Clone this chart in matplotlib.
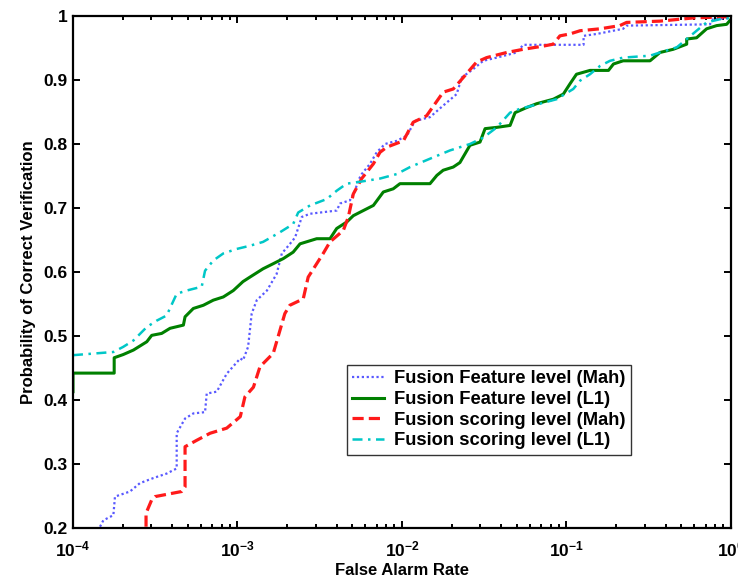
import matplotlib
matplotlib.use("Agg")
import matplotlib.pyplot as plt
from matplotlib.ticker import LogLocator, FixedLocator, NullFormatter

plt.rcParams['font.family'] = ['Liberation Sans', 'DejaVu Sans']
plt.rcParams['font.weight'] = 'bold'
plt.rcParams['mathtext.fontset'] = 'custom'
plt.rcParams['mathtext.rm'] = 'Liberation Sans:bold'
plt.rcParams['mathtext.it'] = 'Liberation Sans:bold'
plt.rcParams['mathtext.bf'] = 'Liberation Sans:bold'

# ---- data (false alarm rate, probability of correct verification) ----
feat_mah_far = [1.46e-4, 1.53e-4, 1.76e-4, 1.80e-4, 2.22e-4, 2.55e-4, 3.08e-4, 3.71e-4,
                4.27e-4, 4.27e-4, 4.80e-4, 5.39e-4, 6.35e-4, 6.50e-4, 7.48e-4, 8.60e-4,
                1.04e-3, 1.08e-3, 1.16e-3, 1.22e-3, 1.31e-3, 1.51e-3, 1.73e-3, 1.86e-3,
                2.04e-3, 2.24e-3, 2.46e-3, 2.76e-3, 4.01e-3, 4.20e-3, 4.83e-3, 5.18e-3,
                5.42e-3, 5.69e-3, 6.39e-3, 7.02e-3, 7.88e-3, 9.29e-3, 1.07e-2, 1.20e-2,
                1.48e-2, 1.78e-2, 2.15e-2, 2.31e-2, 2.71e-2, 3.12e-2, 3.77e-2, 4.98e-2,
                5.46e-2, 0.127, 0.127, 0.153, 0.221, 0.232, 0.745, 0.780, 1.0]
feat_mah_pcv = [0.202, 0.212, 0.220, 0.249, 0.257, 0.270, 0.278, 0.285,
                0.293, 0.348, 0.371, 0.379, 0.381, 0.410, 0.413, 0.441,
                0.465, 0.462, 0.483, 0.535, 0.556, 0.571, 0.597, 0.629,
                0.641, 0.654, 0.686, 0.691, 0.696, 0.707, 0.712, 0.727,
                0.743, 0.753, 0.769, 0.787, 0.800, 0.805, 0.813, 0.836,
                0.842, 0.860, 0.878, 0.904, 0.917, 0.930, 0.935, 0.943,
                0.955, 0.955, 0.969, 0.972, 0.980, 0.985, 0.987, 0.995, 0.997]

feat_l1_far = [1.00e-4, 1.00e-4, 1.78e-4, 1.78e-4, 2.02e-4, 2.33e-4, 2.81e-4, 3.01e-4,
               3.46e-4, 3.89e-4, 4.69e-4, 4.80e-4, 5.39e-4, 6.20e-4, 7.13e-4, 8.20e-4,
               9.43e-4, 1.08e-3, 1.19e-3, 1.43e-3, 1.65e-3, 1.90e-3, 2.18e-3, 2.40e-3,
               3.03e-3, 3.65e-3, 4.01e-3, 4.61e-3, 5.06e-3, 5.82e-3, 6.70e-3, 7.70e-3,
               8.85e-3, 9.72e-3, 1.48e-2, 1.63e-2, 1.78e-2, 2.05e-2, 2.25e-2, 2.59e-2,
               2.98e-2, 3.20e-2, 3.77e-2, 4.54e-2, 4.87e-2, 5.73e-2, 6.59e-2, 8.32e-2,
               9.57e-2, 0.105, 0.115, 0.139, 0.180, 0.193, 0.221, 0.322,
               0.370, 0.446, 0.538, 0.538, 0.618, 0.711, 0.818, 0.941, 1.0]
feat_l1_pcv = [0.413, 0.442, 0.442, 0.466, 0.471, 0.478, 0.491, 0.501,
               0.504, 0.512, 0.517, 0.530, 0.543, 0.548, 0.556, 0.561,
               0.571, 0.585, 0.592, 0.605, 0.613, 0.621, 0.631, 0.644,
               0.652, 0.652, 0.668, 0.678, 0.688, 0.696, 0.704, 0.725,
               0.730, 0.738, 0.738, 0.751, 0.759, 0.764, 0.771, 0.798,
               0.803, 0.824, 0.826, 0.829, 0.849, 0.857, 0.863, 0.870,
               0.878, 0.894, 0.909, 0.915, 0.915, 0.925, 0.930, 0.930,
               0.943, 0.948, 0.956, 0.964, 0.966, 0.980, 0.985, 0.987, 0.995]

score_mah_far = [2.78e-4, 2.78e-4, 3.01e-4, 3.15e-4, 4.58e-4, 4.80e-4, 4.80e-4, 5.65e-4,
                 6.81e-4, 8.60e-4, 1.04e-3, 1.11e-3, 1.25e-3, 1.37e-3, 1.65e-3, 1.94e-3,
                 2.08e-3, 2.51e-3, 2.69e-3, 3.32e-3, 3.65e-3, 4.40e-3, 4.72e-3, 5.06e-3,
                 5.69e-3, 6.70e-3, 7.35e-3, 8.07e-3, 1.02e-2, 1.17e-2, 1.41e-2, 1.78e-2,
                 2.05e-2, 2.36e-2, 2.84e-2, 3.27e-2, 4.33e-2, 5.46e-2, 7.23e-2, 8.32e-2,
                 9.12e-2, 0.105, 0.121, 0.160, 0.211, 0.232, 0.370, 0.590, 1.0]
score_mah_pcv = [0.202, 0.223, 0.244, 0.249, 0.257, 0.264, 0.327, 0.337,
                 0.348, 0.356, 0.374, 0.405, 0.420, 0.452, 0.473, 0.535,
                 0.548, 0.558, 0.592, 0.629, 0.647, 0.665, 0.686, 0.722,
                 0.746, 0.769, 0.787, 0.795, 0.805, 0.834, 0.844, 0.881,
                 0.886, 0.904, 0.928, 0.935, 0.943, 0.948, 0.953, 0.956,
                 0.969, 0.972, 0.977, 0.980, 0.985, 0.990, 0.992, 0.997, 0.999]

score_l1_far = [1.00e-4, 1.76e-4, 2.02e-4, 2.33e-4, 2.81e-4, 3.23e-4, 3.71e-4, 4.27e-4,
                4.91e-4, 6.06e-4, 6.35e-4, 7.13e-4, 8.20e-4, 9.89e-4, 1.19e-3, 1.43e-3,
                1.81e-3, 2.18e-3, 2.34e-3, 2.76e-3, 3.49e-3, 4.01e-3, 4.61e-3, 5.56e-3,
                7.35e-3, 9.29e-3, 1.12e-2, 1.48e-2, 1.96e-2, 2.59e-2, 3.12e-2, 3.77e-2,
                4.54e-2, 5.21e-2, 6.90e-2, 8.71e-2, 0.110, 0.121, 0.139, 0.160,
                0.184, 0.221, 0.322, 0.370, 0.468, 0.538, 0.618, 0.711, 0.857, 1.0]
score_l1_pcv = [0.470, 0.475, 0.483, 0.493, 0.514, 0.524, 0.532, 0.566,
                0.571, 0.577, 0.602, 0.618, 0.629, 0.636, 0.641, 0.647,
                0.662, 0.675, 0.693, 0.704, 0.714, 0.727, 0.738, 0.741,
                0.746, 0.753, 0.764, 0.777, 0.790, 0.800, 0.810, 0.826,
                0.849, 0.855, 0.863, 0.870, 0.886, 0.899, 0.909, 0.922,
                0.930, 0.935, 0.938, 0.943, 0.951, 0.964, 0.977, 0.990, 0.995, 0.997]

labels = ["Fusion Feature level (Mah)", "Fusion Feature level (L1)",
          "Fusion scoring level (Mah)", "Fusion scoring level (L1)"]
y_ticks = [0.2, 0.3, 0.4, 0.5, 0.6, 0.7, 0.8, 0.9, 1.0]
y_tick_labels = ["0.2", "0.3", "0.4", "0.5", "0.6", "0.7", "0.8", "0.9", "1"]

fig = plt.figure(figsize=(7.38, 5.80), dpi=100)
ax = fig.add_axes([0.0989, 0.0897, 0.8916, 0.8827])

ax.plot(feat_mah_far, feat_mah_pcv, color=(0.35, 0.35, 1.0), lw=1.6, linestyle=(0, (1, 1.2)),
        label=labels[0])
ax.plot(feat_l1_far, feat_l1_pcv, color=(0.0, 0.5, 0.0), lw=2.2, linestyle='-',
        label=labels[1])
ax.plot(score_mah_far, score_mah_pcv, color=(1.0, 0.1, 0.1), lw=2.3, linestyle=(0, (3.5, 1.6)),
        label=labels[2])
ax.plot(score_l1_far, score_l1_pcv, color=(0.0, 0.78, 0.78), lw=1.8, linestyle=(0, (4, 2.2, 1, 2.2)),
        label=labels[3])

ax.set_xscale('log')
ax.set_xlim(1e-4, 1)
ax.set_ylim(0.2, 1.0)
ax.yaxis.set_major_locator(FixedLocator(y_ticks))
ax.set_yticklabels(y_tick_labels)
ax.xaxis.set_major_locator(LogLocator(base=10, numticks=10))
ax.xaxis.set_minor_locator(LogLocator(base=10, subs=range(2, 10), numticks=100))
ax.xaxis.set_minor_formatter(NullFormatter())

for s in ax.spines.values():
    s.set_linewidth(1.6)
    s.set_color('black')
ax.tick_params(which='both', direction='in', top=True, right=True, labelsize=12.5,
               colors='black', width=1.4)
ax.tick_params(axis='y', which='major', length=5, pad=4)
ax.tick_params(axis='x', which='major', length=5, pad=8)
ax.tick_params(which='minor', length=3)

ax.set_xlabel("False Alarm Rate", fontsize=12, fontweight='bold', labelpad=3)
ax.set_ylabel("Probability of Correct Verification", fontsize=12, fontweight='bold', labelpad=5)

leg = ax.legend(loc='lower left', bbox_to_anchor=(0.416, 0.143), borderaxespad=0,
                prop={'size': 13.2, 'weight': 'bold'}, fancybox=False, framealpha=1,
                edgecolor='#333333', handlelength=1.75, handletextpad=0.55,
                labelspacing=0.2, borderpad=0.3)
leg.get_frame().set_linewidth(1.0)

fig.savefig("out.png", dpi=100)
